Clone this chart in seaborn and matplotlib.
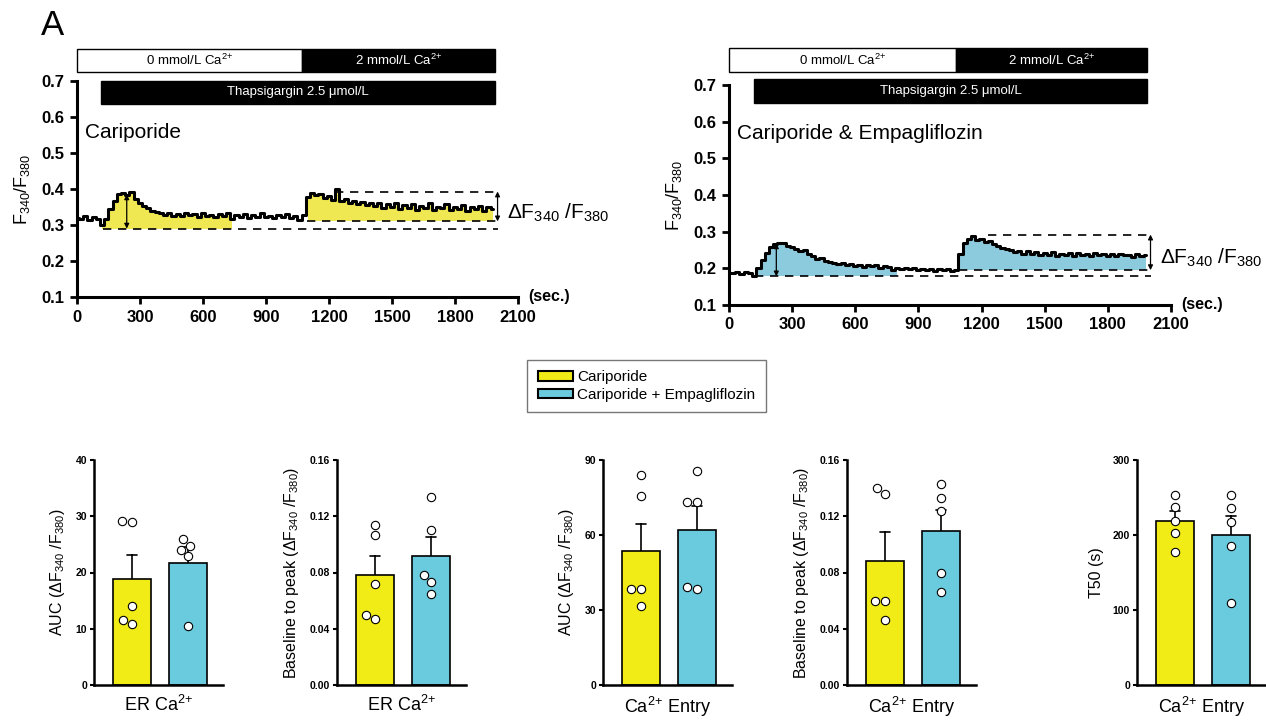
import numpy as np
import pandas as pd
import matplotlib
matplotlib.use('Agg')
import matplotlib.pyplot as plt
from matplotlib.patches import Rectangle, Patch
import seaborn as sns

# ---- trace data (F340/F380 every 20 s) ----
time_s = np.arange(0, 2000, 20)

trace_cari = [
    0.320, 0.317, 0.326, 0.315, 0.321, 0.317, 0.300, 0.318, 0.345, 0.368,
    0.385, 0.390, 0.384, 0.392, 0.372, 0.360, 0.352, 0.348, 0.340, 0.336,
    0.332, 0.328, 0.333, 0.326, 0.331, 0.324, 0.334, 0.327, 0.330, 0.323,
    0.332, 0.326, 0.329, 0.322, 0.331, 0.325, 0.333, 0.318, 0.327, 0.322,
    0.330, 0.320, 0.327, 0.323, 0.332, 0.321, 0.326, 0.319, 0.328, 0.322,
    0.330, 0.320, 0.326, 0.315, 0.328, 0.378, 0.388, 0.382, 0.386, 0.376,
    0.380, 0.370, 0.400, 0.368, 0.372, 0.362, 0.366, 0.358, 0.364, 0.355,
    0.361, 0.352, 0.360, 0.348, 0.357, 0.350, 0.362, 0.345, 0.355, 0.348,
    0.358, 0.343, 0.352, 0.347, 0.360, 0.342, 0.351, 0.346, 0.357, 0.341,
    0.350, 0.345, 0.355, 0.340, 0.349, 0.344, 0.354, 0.338, 0.350, 0.345,
]
trace_cari_empa = [
    0.188, 0.186, 0.190, 0.185, 0.189, 0.187, 0.180, 0.200, 0.222, 0.242,
    0.258, 0.266, 0.270, 0.268, 0.262, 0.258, 0.252, 0.248, 0.250, 0.240,
    0.234, 0.226, 0.228, 0.220, 0.218, 0.214, 0.212, 0.215, 0.209, 0.211,
    0.207, 0.210, 0.203, 0.209, 0.205, 0.208, 0.200, 0.207, 0.203, 0.196,
    0.201, 0.199, 0.202, 0.197, 0.200, 0.196, 0.199, 0.195, 0.198, 0.194,
    0.197, 0.195, 0.198, 0.193, 0.196, 0.240, 0.268, 0.280, 0.288, 0.278,
    0.280, 0.272, 0.274, 0.265, 0.262, 0.256, 0.252, 0.249, 0.245, 0.247,
    0.240, 0.246, 0.238, 0.244, 0.236, 0.242, 0.237, 0.244, 0.233, 0.240,
    0.236, 0.241, 0.234, 0.243, 0.236, 0.239, 0.233, 0.242, 0.235, 0.240,
    0.234, 0.238, 0.233, 0.239, 0.235, 0.237, 0.232, 0.238, 0.234, 0.236,
]

# baseline / plateau levels
cari_levels = {'er_base': 0.29, 'entry_base': 0.31, 'entry_peak': 0.393, 'er_peak': 0.385}
empa_levels = {'er_base': 0.178, 'entry_base': 0.195, 'entry_peak': 0.292, 'er_peak': 0.268}

# ---- bar chart data (individual cells) ----
groups = ['Cariporide', 'Cariporide + Empagliflozin']
auc_er_c = [29.2, 29.0, 14.0, 11.5, 10.9]
auc_er_ce = [26.0, 24.7, 24.0, 22.9, 10.5]
peak_er_c = [0.114, 0.107, 0.072, 0.050, 0.047]
peak_er_ce = [0.134, 0.110, 0.078, 0.073, 0.065]
auc_entry_c = [84.0, 75.7, 38.5, 38.5, 31.7]
auc_entry_ce = [85.6, 73.4, 73.4, 39.2, 38.4]
peak_entry_c = [0.140, 0.136, 0.060, 0.060, 0.046]
peak_entry_ce = [0.143, 0.133, 0.124, 0.080, 0.066]
t50_c = [254, 238, 219, 203, 177]
t50_ce = [253, 236, 218, 185, 109]

bar_yellow = '#F2EC16'
bar_blue = '#6BCBDE'
fill_yellow = '#F0E852'
fill_blue = '#8CCADD'

sns.set_style('ticks')
plt.rcParams['font.family'] = ['Liberation Sans', 'DejaVu Sans']
plt.rcParams['mathtext.fontset'] = 'custom'
plt.rcParams['mathtext.rm'] = 'Liberation Sans'
plt.rcParams['mathtext.it'] = 'Liberation Sans:italic'
plt.rcParams['mathtext.bf'] = 'Liberation Sans:bold'
for key in ('text.color', 'axes.labelcolor', 'xtick.color', 'ytick.color',
            'axes.edgecolor'):
    plt.rcParams[key] = 'black'

fig = plt.figure(figsize=(12.66, 7.2), dpi=100)


def draw_protocol(ax, switch_t, thaps_t, end_t, box_y, thaps_y):
    y0, y1 = box_y
    ax.add_patch(Rectangle((0, y0), switch_t, y1 - y0, facecolor='white',
                           edgecolor='black', lw=1, clip_on=False))
    ax.add_patch(Rectangle((switch_t, y0), end_t - switch_t, y1 - y0,
                           facecolor='black', edgecolor='black', lw=1, clip_on=False))
    ax.text(switch_t / 2, (y0 + y1) / 2, '0 mmol/L Ca$^{2{+}}$', ha='center',
            va='center', fontsize=9.5)
    ax.text((switch_t + end_t) / 2, (y0 + y1) / 2, '2 mmol/L Ca$^{2{+}}$',
            ha='center', va='center', fontsize=9.5, color='white')
    t0, t1 = thaps_y
    ax.add_patch(Rectangle((thaps_t, t0), end_t - thaps_t, t1 - t0,
                           facecolor='black', edgecolor='black', lw=1, clip_on=False))
    ax.text((thaps_t + end_t) / 2, (t0 + t1) / 2, 'Thapsigargin 2.5 μmol/L',
            ha='center', va='center', fontsize=9.5, color='white')


def draw_trace(ax, trace, fill_color, lv, er_fill_end, label, label_y, delta_y,
               arrow_x):
    trace = np.array(trace)
    m1 = (time_s >= 120) & (time_s <= er_fill_end)
    ax.fill_between(time_s[m1], lv['er_base'], trace[m1], step='mid',
                    color=fill_color, lw=0, zorder=1)
    m2 = (time_s >= 1100) & (time_s <= 1980)
    ax.fill_between(time_s[m2], lv['entry_base'], trace[m2], step='mid',
                    color=fill_color, lw=0, zorder=1)
    sns.lineplot(x=time_s, y=trace, drawstyle='steps-mid', color='black',
                 linewidth=2.2, errorbar=None, ax=ax, zorder=3)
    dash = (0, (5, 4))
    ax.hlines(lv['er_base'], 125, 2005, colors='black', linestyles=dash, lw=1.2)
    ax.hlines(lv['entry_base'], 1095, 2005, colors='black', linestyles=dash, lw=1.2)
    ax.hlines(lv['entry_peak'], 1230, 2005, colors='black', linestyles=dash, lw=1.2)
    ap = dict(arrowstyle='<|-|>', color='black', lw=0.9, mutation_scale=7,
              shrinkA=0, shrinkB=0)
    ax.annotate('', xy=(arrow_x, lv['er_peak']), xytext=(arrow_x, lv['er_base']),
                arrowprops=ap)
    ax.annotate('', xy=(2003, lv['entry_peak']), xytext=(2003, lv['entry_base']),
                arrowprops=ap)
    ax.text(2050, delta_y, 'ΔF$_{340}$ /F$_{380}$', fontsize=15, va='center',
            ha='left')
    ax.text(40, label_y, label, fontsize=15, va='center', ha='left')
    ax.text(2150, 0.1, '(sec.)', fontsize=11.5, fontweight='bold', va='center',
            ha='left', clip_on=False)

    ax.set_xlim(0, 2100)
    ax.set_ylim(0.1, 0.7)
    xt = [0, 300, 600, 900, 1200, 1500, 1800, 2100]
    ax.set_xticks(xt, [str(v) for v in xt], fontweight='bold', fontsize=12)
    yt = [0.1, 0.2, 0.3, 0.4, 0.5, 0.6, 0.7]
    ax.set_yticks(yt, [f'{v:.1f}' for v in yt], fontweight='bold', fontsize=12)
    ax.tick_params(direction='out', length=5, width=2, pad=4)
    ax.set_xlabel('')
    ax.set_ylabel('F$_{340}$/F$_{380}$', fontsize=13, labelpad=7)
    sns.despine(ax=ax)
    for s in ('left', 'bottom'):
        ax.spines[s].set_linewidth(2.2)


ax1 = fig.add_axes([0.0608, 0.5875, 0.3483, 0.300])
draw_trace(ax1, trace_cari, fill_yellow, cari_levels, 740, 'Cariporide', 0.558,
           0.335, 237)
draw_protocol(ax1, 1071, 114, 1990, (0.724, 0.788), (0.636, 0.701))

ax2 = fig.add_axes([0.5758, 0.5764, 0.3491, 0.3056])
draw_trace(ax2, trace_cari_empa, fill_blue, empa_levels, 800,
           'Cariporide & Empagliflozin', 0.569, 0.228, 225)
draw_protocol(ax2, 1078, 119, 1988, (0.736, 0.800), (0.652, 0.7155))

fig.text(0.032, 0.965, 'A', fontsize=25, va='center', ha='left')


def draw_bars(ax, vals_c, vals_ce, yticks, fmt, ylabel, xlabel):
    df = pd.DataFrame({
        'group': [groups[0]] * len(vals_c) + [groups[1]] * len(vals_ce),
        'value': vals_c + vals_ce,
    })
    sns.barplot(data=df, x='group', y='value', hue='group',
                palette=[bar_yellow, bar_blue], saturation=1, errorbar='se',
                capsize=0.18, width=0.68, edgecolor='black', linewidth=1.2,
                err_kws={'color': 'black', 'linewidth': 1.2, 'zorder': 0.5},
                legend=False, ax=ax)
    sns.swarmplot(data=df, x='group', y='value', color='white',
                  edgecolor='black', linewidth=0.8, size=6, ax=ax, zorder=4)
    ax.set_xlim(-0.68, 1.625)
    ax.set_ylim(yticks[0], yticks[-1])
    ax.set_yticks(yticks, [fmt.format(v) for v in yticks], fontweight='bold',
                  fontsize=7.5)
    ax.set_xticks([])
    ax.tick_params(axis='y', direction='out', length=3, width=1.5, pad=2)
    ax.set_xlabel(xlabel, fontsize=13, labelpad=7)
    ax.set_ylabel(ylabel, fontsize=11.5, labelpad=6)
    sns.despine(ax=ax)
    for s in ('left', 'bottom'):
        ax.spines[s].set_linewidth(1.8)


bw = 129 / 1266
bb, bh = 35 / 720, 225 / 720
auc_lab = 'AUC (ΔF$_{340}$ /F$_{380}$)'
peak_lab = 'Baseline to peak (ΔF$_{340}$ /F$_{380}$)'
er_lab = 'ER Ca$^{2{+}}$'
entry_lab = 'Ca$^{2{+}}$ Entry'

b1 = fig.add_axes([94 / 1266, bb, bw, bh])
draw_bars(b1, auc_er_c, auc_er_ce, [0, 10, 20, 30, 40], '{:.0f}', auc_lab, er_lab)
b2 = fig.add_axes([337 / 1266, bb, bw, bh])
draw_bars(b2, peak_er_c, peak_er_ce, [0, 0.04, 0.08, 0.12, 0.16], '{:.2f}',
          peak_lab, er_lab)
b3 = fig.add_axes([603 / 1266, bb, bw, bh])
draw_bars(b3, auc_entry_c, auc_entry_ce, [0, 30, 60, 90], '{:.0f}', auc_lab,
          entry_lab)
b4 = fig.add_axes([847 / 1266, bb, bw, bh])
draw_bars(b4, peak_entry_c, peak_entry_ce, [0, 0.04, 0.08, 0.12, 0.16], '{:.2f}',
          peak_lab, entry_lab)
b5 = fig.add_axes([1137 / 1266, bb, bw, bh])
draw_bars(b5, t50_c, t50_ce, [0, 100, 200, 300], '{:.0f}', 'T50 (s)', entry_lab)

handles = [Patch(facecolor=bar_yellow, edgecolor='black', linewidth=1.5),
           Patch(facecolor=bar_blue, edgecolor='black', linewidth=1.5)]
fig.legend(handles, groups, loc='center', bbox_to_anchor=(0.5107, 0.4639),
           frameon=True, fancybox=False, edgecolor='#555555', fontsize=11,
           handlelength=2.3, handleheight=0.55, borderpad=0.7, labelspacing=0.2,
           handletextpad=0.3)

fig.savefig('out.png', dpi=100)
